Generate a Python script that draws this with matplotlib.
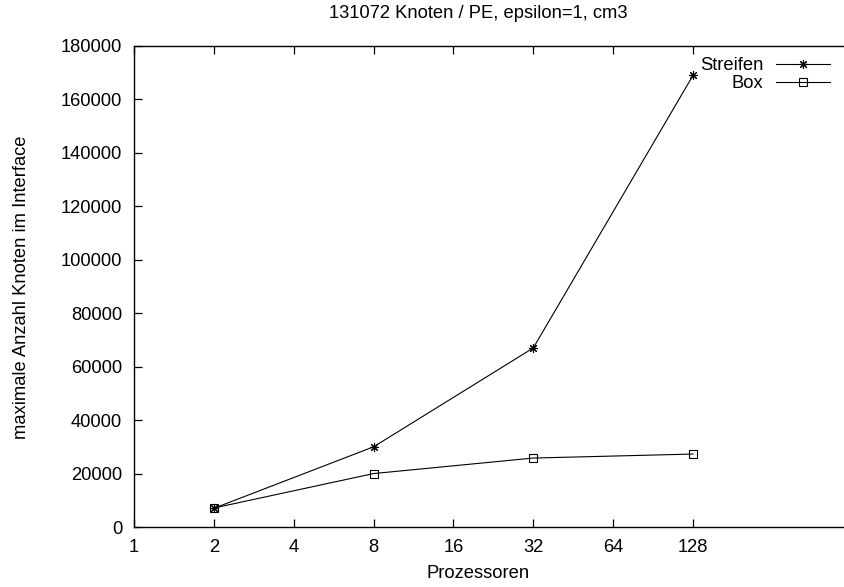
import matplotlib
matplotlib.use("Agg")
import matplotlib.pyplot as plt
from matplotlib.ticker import FixedLocator, FixedFormatter, NullLocator

plt.rcParams['font.family'] = ['Liberation Sans', 'DejaVu Sans']

# data
procs = [2, 8, 32, 128]
streifen = [7000, 30000, 67000, 169000]
box = [7100, 20000, 25800, 27300]

x_ticks = [1, 2, 4, 8, 16, 32, 64, 128]
y_ticks = list(range(0, 180001, 20000))

title = "131072 Knoten / PE, epsilon=1, cm3"
xlabel = "Prozessoren"
ylabel = "maximale Anzahl Knoten im Interface"

W, H = 844, 587
fig = plt.figure(figsize=(W / 100, H / 100), dpi=100)

# plot frame: left 134px, bottom 527px, top 46px, right runs past the image edge
left, right, top, bottom = 134, 852.7, 46, 527
ax = fig.add_axes([left / W, 1 - bottom / H, (right - left) / W, (bottom - top) / H])

fs = 13.2
ax.plot(procs, streifen, color='black', lw=0.8, marker=(8, 2, 0), ms=6.5,
        mew=0.8, label='Streifen')
ax.plot(procs, box, color='black', lw=0.8, marker='s', ms=6, mfc='none',
        mew=0.8, label='Box')

ax.set_xscale('log', base=2)
ax.set_xlim(1, 512)
ax.set_ylim(0, 180000)
ax.xaxis.set_major_locator(FixedLocator(x_ticks))
ax.xaxis.set_major_formatter(FixedFormatter([str(v) for v in x_ticks]))
ax.xaxis.set_minor_locator(NullLocator())
ax.set_yticks(y_ticks)
ax.set_yticklabels([str(v) for v in y_ticks])

ax.tick_params(direction='in', length=6, width=0.9, labelsize=fs,
               top=True, right=True, pad=8.5)
for sp in ax.spines.values():
    sp.set_linewidth(1.0)

fig.text(478 / W, 1 - 14 / H, title, ha='center', va='center', fontsize=fs)
fig.text(478 / W, 1 - 573 / H, xlabel, ha='center', va='center', fontsize=fs)
fig.text(22 / W, 1 - 287 / H, ylabel, ha='center', va='center',
         rotation=90, fontsize=fs)

fig.legend(loc='upper right', bbox_to_anchor=(830 / W, 1 - 57 / H),
           frameon=False, markerfirst=False, fontsize=fs, handlelength=2.95,
           handletextpad=0.69, labelspacing=0.08, borderpad=0, borderaxespad=0)

fig.savefig('out.png', dpi=100)
